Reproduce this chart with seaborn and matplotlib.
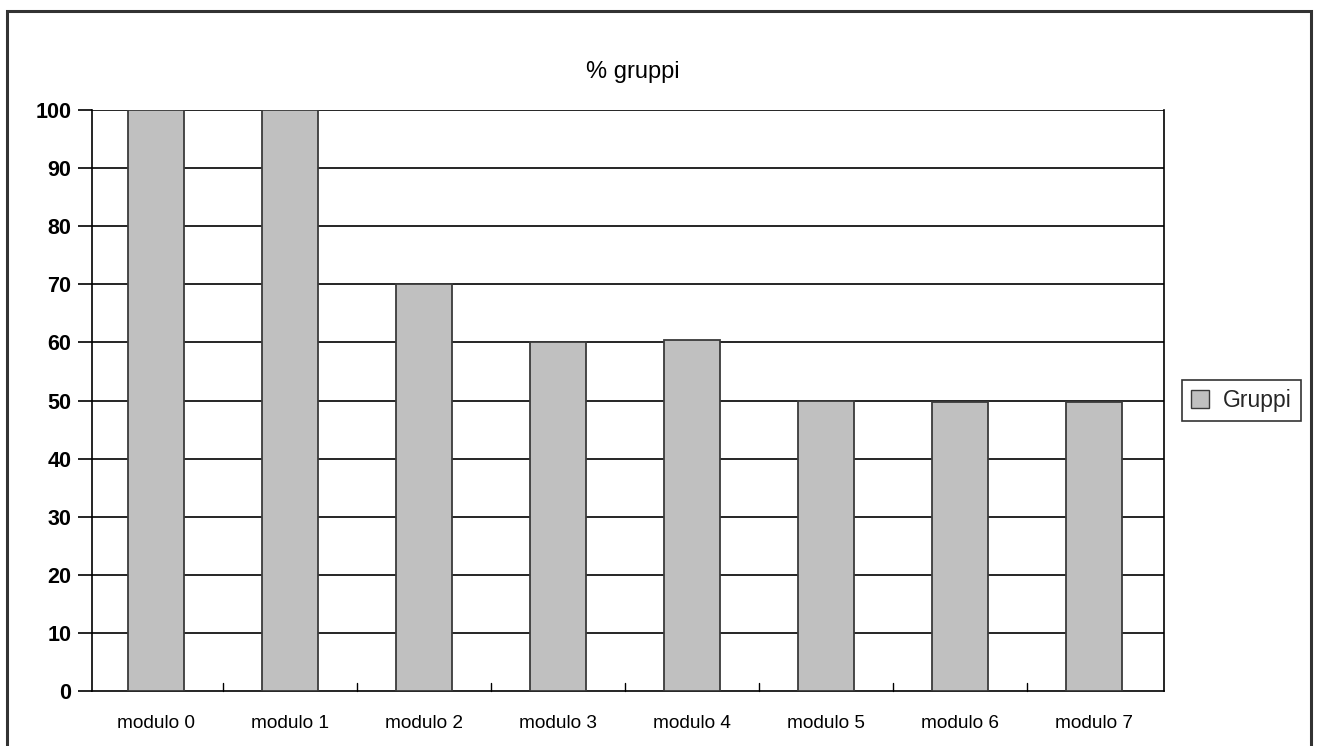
import matplotlib
matplotlib.use("Agg")
import matplotlib.pyplot as plt
import seaborn as sns
import pandas as pd
from matplotlib.patches import Rectangle, Patch

categories = ["modulo 0", "modulo 1", "modulo 2", "modulo 3",
              "modulo 4", "modulo 5", "modulo 6", "modulo 7"]
values = [100, 100, 70, 60.1, 60.4, 50, 49.8, 49.8]
yticks = [0, 10, 20, 30, 40, 50, 60, 70, 80, 90, 100]
title = "% gruppi"
series_name = "Gruppi"

sns.set_theme(style="white")
plt.rcParams['font.family'] = ['Liberation Sans', 'DejaVu Sans']

df = pd.DataFrame({"cat": categories, "val": values})

fig = plt.figure(figsize=(13.18, 7.46), dpi=100)
ax = fig.add_axes([92/1318, 55/746, 1072/1318, 581/746])

sns.barplot(data=df, x="cat", y="val", ax=ax, color="#c0c0c0",
            width=0.42, edgecolor="#3a3a3a", linewidth=1.3, saturation=1,
            zorder=3)

ax.set_xlim(-0.48, len(categories) - 0.48)
ax.set_ylim(0, 100)
ax.set_yticks(yticks)
ax.set_yticklabels([str(t) for t in yticks], fontsize=15.5, fontweight="bold",
                   color="black")
ax.set_xticks(range(len(categories)))
ax.set_xticklabels(categories, fontsize=13.7, color="black")
ax.tick_params(axis="x", length=0, pad=17)
ax.tick_params(axis="y", direction="out", length=10, width=1.2, color="black",
               pad=5, left=True)
ax.set_xlabel("")
ax.set_ylabel("")

for y in yticks[1:]:
    ax.axhline(y, color="black", linewidth=1.2, zorder=1)

# category boundary ticks on the x axis (inward)
for i in range(1, len(categories)):
    ax.plot([i - 0.5, i - 0.5], [0, 1.4], color="black", linewidth=1.0,
            zorder=2, clip_on=False)

for side in ["left", "right", "bottom"]:
    ax.spines[side].set_visible(True)
    ax.spines[side].set_color("black")
    ax.spines[side].set_linewidth(1.2)
ax.spines["top"].set_visible(False)

fig.text(633/1318, 1 - 72/746, title, ha="center", va="center",
         fontsize=17, color="black")

handle = Patch(facecolor="#c0c0c0", edgecolor="#3a3a3a", linewidth=1.0)
leg = fig.legend([handle], [series_name], loc="center",
                 bbox_to_anchor=(1241.5/1318, 1 - 400.5/746),
                 fontsize=16.5, frameon=True, fancybox=False,
                 handlelength=0.8, handleheight=0.8, handletextpad=0.6,
                 borderpad=0.38)
leg.get_frame().set_edgecolor("black")
leg.get_frame().set_linewidth(1.2)

# outer chart border
fig.patches.append(Rectangle((7/1318, -0.05), (1311 - 7)/1318, (1 - 11/746) + 0.05,
                             transform=fig.transFigure, fill=False,
                             edgecolor="#333333", linewidth=2.2))

fig.savefig("out.png", dpi=100)
